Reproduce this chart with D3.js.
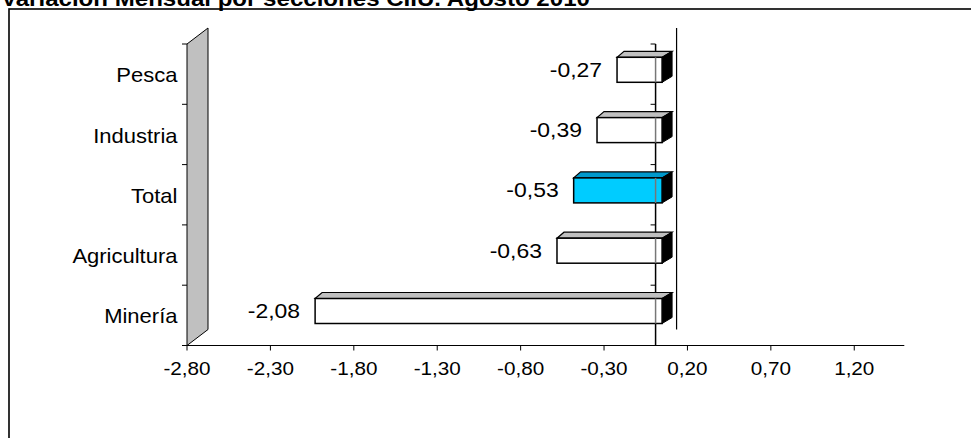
<!DOCTYPE html>
<html>
<head>
<meta charset="utf-8">
<script src="https://cdn.jsdelivr.net/npm/d3@7"></script>
<style>
  html, body { margin: 0; padding: 0; background: #fff; overflow: hidden; }
  svg { display: block; }
  text { font-family: "Liberation Sans", Arial, sans-serif; fill: #000; }
</style>
</head>
<body>
<svg id="chart" width="971" height="438"></svg>
<script>
// ---- data ----
const titleText = "Variación Mensual por secciones CIIU. Agosto 2010";
const categories = ["Pesca", "Industria", "Total", "Agricultura", "Minería"];
const values = [-0.27, -0.39, -0.53, -0.63, -2.08];
const highlight = ["Total"];
const tickValues = [-2.8, -2.3, -1.8, -1.3, -0.8, -0.3, 0.2, 0.7, 1.2];
const valueDomain = [-2.8, 1.5];

// ---- layout ----
const plotLeft = 187, plotRight = 904.3;
const plotTop = 44, plotBottom = 345.5;
const wallDepth = [21, -16];
const barShift = 8;
const barTopPad = 13.3, barH = 25;
const barDepthL = 7, barDepthR = 10, barDepthY = -6;
const sx = 1.1;

const svg = d3.select("#chart");
const fmt = v => d3.format(".2f")(v).replace(".", ",").replace("\u2212", "-");

const x = d3.scaleLinear().domain(valueDomain).range([plotLeft, plotRight]);
const y = d3.scaleBand().domain(categories).range([plotTop, plotBottom]).padding(0);

// title (mostly cut off at top, as in the source image)
svg.append("text")
  .attr("transform", `translate(1,6) scale(1.12,1)`)
  .attr("font-size", 21.5).attr("font-weight", "bold")
  .text(titleText);

// outer frame
svg.append("rect").attr("x", 9).attr("y", 9).attr("width", 1200).attr("height", 800)
  .attr("fill", "none").attr("stroke", "#000").attr("stroke-width", 1.6);

// side wall
const wx = x(valueDomain[0]);
svg.append("path")
  .attr("d", `M${wx},${plotBottom} L${wx},${plotTop} L${wx + wallDepth[0]},${plotTop + wallDepth[1]} L${wx + wallDepth[0]},${plotBottom + wallDepth[1]} Z`)
  .attr("fill", "#c0c0c0").attr("stroke", "#000").attr("stroke-width", 1);

// back zero line
svg.append("line")
  .attr("x1", x(0) + wallDepth[0] + 1.5).attr("x2", x(0) + wallDepth[0] + 1.5)
  .attr("y1", plotTop + wallDepth[1]).attr("y2", plotBottom + wallDepth[1])
  .attr("stroke", "#000").attr("stroke-width", 1.2);

// category axis at zero
const zx = x(0) + 1.5;
svg.append("line").attr("x1", zx).attr("x2", zx).attr("y1", plotTop).attr("y2", plotBottom)
  .attr("stroke", "#000").attr("stroke-width", 1.5);

const boundaries = categories.map(c => y(c)).concat([plotBottom]);
svg.append("g").selectAll("line").data(boundaries).join("line")
  .attr("x1", wx - 5).attr("x2", wx).attr("y1", d => d).attr("y2", d => d)
  .attr("stroke", "#000").attr("stroke-width", 1);
svg.append("g").selectAll("line").data(boundaries).join("line")
  .attr("x1", zx - 5).attr("x2", zx).attr("y1", d => d).attr("y2", d => d)
  .attr("stroke", "#000").attr("stroke-width", 1);

// value axis
svg.append("line").attr("x1", wx).attr("x2", plotRight).attr("y1", plotBottom).attr("y2", plotBottom)
  .attr("stroke", "#000").attr("stroke-width", 1);
const axisG = svg.append("g").attr("transform", `translate(0,${plotBottom})`);
axisG.selectAll("line").data(tickValues).join("line")
  .attr("x1", d => x(d)).attr("x2", d => x(d)).attr("y1", 0).attr("y2", 5)
  .attr("stroke", "#000").attr("stroke-width", 1);
axisG.selectAll("text").data(tickValues).join("text")
  .attr("transform", d => `translate(${x(d)},29) scale(1.15,1)`)
  .attr("text-anchor", "middle").attr("font-size", 18)
  .text(d => fmt(d));

// category labels
svg.append("g").selectAll("text").data(categories).join("text")
  .attr("transform", c => `translate(177.5,${y(c) + y.bandwidth() / 2 + 1}) scale(${sx},1)`)
  .attr("text-anchor", "end").attr("dominant-baseline", "central")
  .attr("font-size", 20)
  .text(c => c);

// bars
const bars = svg.append("g").selectAll("g").data(categories.map((c, i) => ({ c, v: values[i] }))).join("g");
bars.each(function (d) {
  const g = d3.select(this);
  const xl = x(Math.min(d.v, 0)) + barShift;
  const xr = x(Math.max(d.v, 0)) + barShift;
  const yt = y(d.c) + barTopPad;
  const yb = yt + barH;
  const hi = highlight.includes(d.c);
  g.append("path")
    .attr("d", `M${xl},${yt} L${xr},${yt} L${xr + barDepthR},${yt + barDepthY} L${xl + barDepthL},${yt + barDepthY} Z`)
    .attr("fill", hi ? "#0099cc" : "#c0c0c0").attr("stroke", "#000").attr("stroke-width", 1.2);
  g.append("path")
    .attr("d", `M${xr},${yt} L${xr + barDepthR},${yt + barDepthY} L${xr + barDepthR},${yb + barDepthY} L${xr},${yb} Z`)
    .attr("fill", "#000").attr("stroke", "#000").attr("stroke-width", 1);
  g.append("rect").attr("x", xl).attr("y", yt).attr("width", xr - xl).attr("height", barH)
    .attr("fill", hi ? "#00ccff" : "#fff").attr("stroke", "#000").attr("stroke-width", 1.5);
  g.append("line").attr("x1", zx).attr("x2", zx).attr("y1", yt).attr("y2", yb)
    .attr("stroke", "#777").attr("stroke-width", 1.5);
  g.append("text")
    .attr("transform", `translate(${xl - 15},${(yt + yb) / 2}) scale(1.12,1)`)
    .attr("text-anchor", "end").attr("dominant-baseline", "central")
    .attr("font-size", 20.5)
    .text(fmt(d.v));
});
</script>
</body>
</html>
